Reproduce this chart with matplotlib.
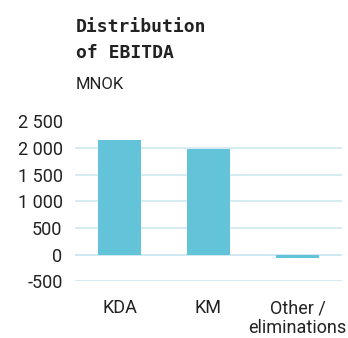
import matplotlib.pyplot as plt
from matplotlib.ticker import FuncFormatter

# EBITDA by segment, MNOK
segments = ["KDA", "KM", "Other /\neliminations"]
ebitda = [2155, 1990, -55]
y_ticks = [-500, 0, 500, 1000, 1500, 2000, 2500]

BAR_COLOR = "#62c3d9"
GRID_COLOR = "#cfe8f1"
TEXT_COLOR = "#222222"

plt.rcParams['font.family'] = ['Roboto', 'DejaVu Sans']

W, H = 348, 338
fig = plt.figure(figsize=(W / 100, H / 100), dpi=100)
ax = fig.add_axes([75 / W, 1 - 281.3 / H, 267 / W, 159.8 / H])

ax.bar(range(len(segments)), ebitda, width=0.48, color=BAR_COLOR, zorder=2)

ax.set_xlim(-0.5, 2.5)
ax.set_ylim(-500, 2500)
ax.set_yticks(y_ticks)
ax.yaxis.set_major_formatter(
    FuncFormatter(lambda v, pos: f"{int(v):,}".replace(",", " ")))
ax.set_xticks(range(len(segments)))
ax.set_xticklabels(segments, linespacing=1.15)

ax.grid(axis='y', color=GRID_COLOR, linewidth=1.2, zorder=0)
ax.axhline(0, color=GRID_COLOR, linewidth=1.2, zorder=1)
for side in ax.spines.values():
    side.set_visible(False)
ax.tick_params(axis='both', length=0, labelsize=13, colors=TEXT_COLOR)
ax.tick_params(axis='y', pad=9)
ax.tick_params(axis='x', pad=13)

# Heading block
for txt, base in [("Distribution", 31.7), ("of EBITDA", 58.3)]:
    fig.text(76 / W, 1 - base / H, txt, family='DejaVu Sans Mono',
             weight='bold', fontsize=13, color=TEXT_COLOR, va='baseline')
fig.text(76 / W, 1 - 89 / H, "MNOK", fontsize=12,
         color=TEXT_COLOR, va='baseline')

fig.savefig("out.png", dpi=100)
